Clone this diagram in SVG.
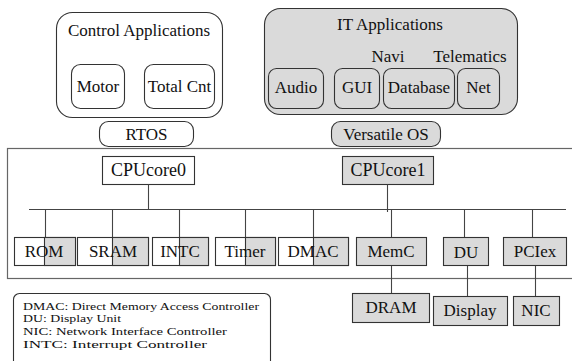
<svg xmlns="http://www.w3.org/2000/svg" width="572" height="361" viewBox="0 0 572 361">
<style>
text{font-family:"Liberation Serif","Times New Roman",serif;font-size:17px;fill:#111;text-anchor:middle}
.rb{fill:#fff;stroke:#333;stroke-width:1.1}
.rg{fill:#dadada;stroke:#333;stroke-width:1.1}
.ln{stroke:#444;stroke-width:1.1;fill:none}
.leg{font-size:11px;text-anchor:start}
</style>
<rect x="7.5" y="148.5" width="570" height="130" fill="none" stroke="#666" stroke-width="1.2"/>
<g id="ctrl-apps">
<rect class="rb" x="56.5" y="12.5" width="166" height="105" rx="16"/>
<text x="139" y="36">Control Applications</text>
</g>
<g id="motor"><rect class="rb" x="71.5" y="64.5" width="53" height="44" rx="9"/><text x="98" y="92">Motor</text></g>
<g id="totalcnt"><rect class="rb" x="144.5" y="64.5" width="70" height="44" rx="9"/><text x="179.5" y="92">Total Cnt</text></g>
<g id="rtos"><rect class="rb" x="99.5" y="121.5" width="94" height="25" rx="9"/><text x="146.5" y="140">RTOS</text></g>
<g id="it-apps">
<rect class="rg" x="264.5" y="8.5" width="253" height="106" rx="16"/>
<text x="390" y="30">IT Applications</text>
<text x="388" y="62">Navi</text>
<text x="470" y="62">Telematics</text>
</g>
<g id="audio"><rect class="rg" x="268.5" y="68.5" width="55" height="40" rx="8"/><text x="296" y="93">Audio</text></g>
<g id="gui"><rect class="rg" x="334.5" y="68.5" width="45" height="40" rx="8"/><text x="357" y="93">GUI</text></g>
<g id="database"><rect class="rg" x="383.5" y="68.5" width="71" height="40" rx="8"/><text x="419" y="93">Database</text></g>
<g id="net"><rect class="rg" x="457.5" y="68.5" width="42" height="40" rx="8"/><text x="478.5" y="93">Net</text></g>
<g id="versatile-os"><rect class="rg" x="331.5" y="121.5" width="109" height="25" rx="9"/><text x="386" y="140">Versatile OS</text></g>
<g id="cpucore0"><rect class="rb" x="102.5" y="156.5" width="92" height="28"/><text x="148.5" y="176" style="font-size:18px">CPUcore0</text></g>
<g id="cpucore1"><rect class="rg" x="342.5" y="156.5" width="91" height="28"/><text x="388" y="176" style="font-size:18px">CPUcore1</text></g>
<g id="connectors">
<line class="ln" x1="29" y1="209.5" x2="566" y2="209.5"/>
<line class="ln" x1="148.5" y1="184.5" x2="148.5" y2="209.5"/>
<line class="ln" x1="387.5" y1="184.5" x2="387.5" y2="212"/>
<line class="ln" x1="45.5" y1="209.5" x2="45.5" y2="237"/>
<line class="ln" x1="112.5" y1="209.5" x2="112.5" y2="237"/>
<line class="ln" x1="179.5" y1="209.5" x2="179.5" y2="237"/>
<line class="ln" x1="245.5" y1="209.5" x2="245.5" y2="237"/>
<line class="ln" x1="313.5" y1="209.5" x2="313.5" y2="237"/>
<line class="ln" x1="391.5" y1="209.5" x2="391.5" y2="237"/>
<line class="ln" x1="464.5" y1="209.5" x2="464.5" y2="237"/>
<line class="ln" x1="532.5" y1="209.5" x2="532.5" y2="237"/>
<line class="ln" x1="391.5" y1="265" x2="391.5" y2="293"/>
<line class="ln" x1="467.5" y1="265" x2="467.5" y2="296"/>
<line class="ln" x1="535.5" y1="265" x2="535.5" y2="296"/>
</g>
<g id="rom"><rect class="rb" x="14.5" y="237.5" width="61" height="28"/><rect class="rg" x="44.5" y="237.5" width="31" height="28"/><text x="44" y="257">ROM</text></g>
<g id="sram"><rect class="rb" x="77.5" y="237.5" width="71" height="28"/><rect class="rg" x="112.5" y="237.5" width="36" height="28"/><text x="113" y="257">SRAM</text></g>
<g id="intc"><rect class="rb" x="152.5" y="237.5" width="56" height="28"/><rect class="rg" x="179.5" y="237.5" width="29" height="28"/><text x="180" y="257">INTC</text></g>
<g id="timer"><rect class="rb" x="215.5" y="237.5" width="60" height="28"/><rect class="rg" x="245.5" y="237.5" width="30" height="28"/><text x="245" y="257">Timer</text></g>
<g id="dmac"><rect class="rb" x="278.5" y="237.5" width="70" height="28"/><rect class="rg" x="313.5" y="237.5" width="35" height="28"/><text x="313" y="257">DMAC</text></g>
<g id="memc"><rect class="rg" x="356.5" y="237.5" width="70" height="28"/><text x="391" y="257">MemC</text></g>
<g id="du"><rect class="rg" x="443.5" y="237.5" width="45" height="28"/><text x="466" y="258">DU</text></g>
<g id="pciex"><rect class="rg" x="503.5" y="237.5" width="63" height="28"/><text x="535" y="257">PCIex</text></g>
<g id="dram"><rect class="rg" x="352.5" y="293.5" width="77" height="29"/><text x="391" y="313">DRAM</text></g>
<g id="display"><rect class="rg" x="433.5" y="296.5" width="74" height="29"/><text x="470" y="316">Display</text></g>
<g id="nic"><rect class="rg" x="513.5" y="296.5" width="46" height="29"/><text x="536" y="316">NIC</text></g>
<g id="legend">
<rect x="13.5" y="293.5" width="257" height="80" rx="6" fill="#fff" stroke="#333" stroke-width="1.1"/>
<text class="leg" x="23" y="309.5" textLength="236" lengthAdjust="spacingAndGlyphs">DMAC: Direct Memory Access Controller</text>
<text class="leg" x="23" y="322.2" textLength="98" lengthAdjust="spacingAndGlyphs">DU: Display Unit</text>
<text class="leg" x="23" y="334.9" textLength="204" lengthAdjust="spacingAndGlyphs">NIC: Network Interface Controller</text>
<text class="leg" x="23" y="347.6" textLength="184" lengthAdjust="spacingAndGlyphs">INTC: Interrupt Controller</text>
</g>
</svg>
